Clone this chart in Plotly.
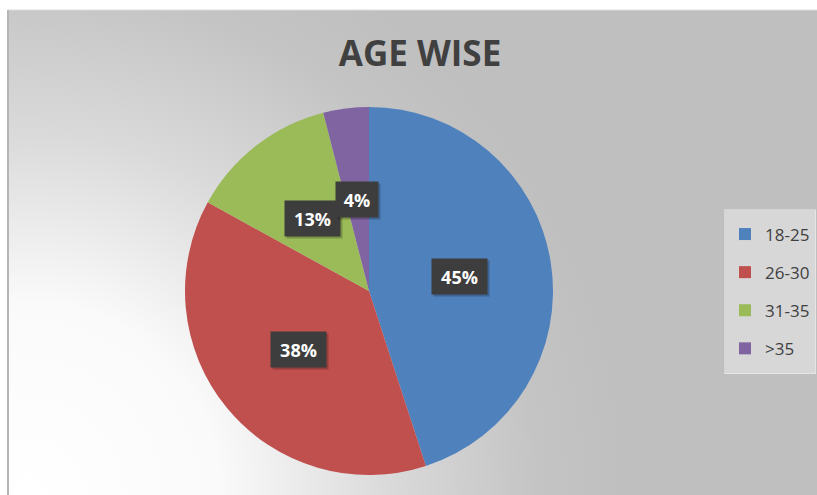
import base64
import math
import plotly.graph_objects as go

# ---- data ----
age_groups = ["18-25", "26-30", "31-35", ">35"]
shares = [45, 38, 13, 4]
slice_colors = ["#4F81BD", "#C0504D", "#9BBB59", "#8064A2"]
chart_title = "AGE WISE"

# ---- layout geometry (pixels) ----
W, H = 817, 495
AREA_X0, AREA_Y0 = 8, 10          # top-left corner of the chart area
CX, CY, R = 369, 291, 184         # pie centre and radius
LABEL_RADIUS = 0.5                 # data labels sit halfway out along each slice
FONT = "Open Sans"


def fx(x):
    return x / W


def fy(y):
    return 1 - y / H


# soft radial background, bright in the lower-left corner
aw, ah = W - AREA_X0, H - AREA_Y0
svg = f"""<svg xmlns="http://www.w3.org/2000/svg" width="{aw}" height="{ah}">
<defs><radialGradient id="bg" gradientUnits="userSpaceOnUse" cx="20" cy="{ah}" r="600">
<stop offset="0" stop-color="#ffffff"/>
<stop offset="0.32" stop-color="#fafafa"/>
<stop offset="0.6" stop-color="#dadada"/>
<stop offset="0.85" stop-color="#c4c4c4"/>
<stop offset="1" stop-color="#bfbfbf"/>
</radialGradient></defs>
<rect width="100%" height="100%" fill="url(#bg)"/></svg>"""
bg_uri = "data:image/svg+xml;base64," + base64.b64encode(svg.encode()).decode()

# legend entries: larger base font gives the roomy row spacing, the span sets the visible size
legend_labels = [
    f"<span style='font-size:17px;baseline-shift:4px'>{g.replace('>', '&gt;')}</span>"
    for g in age_groups
]

fig = go.Figure(
    go.Pie(
        labels=legend_labels,
        values=shares,
        sort=False,
        direction="clockwise",
        rotation=0,
        marker=dict(colors=slice_colors, line=dict(width=0)),
        textinfo="none",
        hoverinfo="skip",
        domain=dict(
            x=[fx(CX - R), fx(CX + R)],
            y=[fy(CY + R), fy(CY - R)],
        ),
    )
)

# data labels in dark boxes, placed along each slice's mid-angle
annotations = []
total = sum(shares)
cum = 0
for v in shares:
    theta = math.radians(360 * (cum + v / 2) / total)
    cum += v
    lx = CX + LABEL_RADIUS * R * math.sin(theta)
    ly = CY - LABEL_RADIUS * R * math.cos(theta)
    label = f"{v}%"
    common = dict(
        x=fx(lx), y=fy(ly), xref="paper", yref="paper",
        xanchor="center", yanchor="middle", showarrow=False,
        width=13 * len(label) + 2, height=21, borderpad=7,
    )
    # soft drop shadow behind the box
    annotations.append(dict(
        common, text="&nbsp;", xshift=2, yshift=-2,
        bgcolor="rgba(0,0,0,0.22)",
        font=dict(family=FONT, size=18, color="rgba(0,0,0,0)"),
    ))
    annotations.append(dict(
        common, text=f"<b>{label}</b>", bgcolor="#3d3d3d",
        font=dict(family=FONT, size=18, color="#ffffff"),
    ))

fig.update_layout(
    width=W,
    height=H,
    margin=dict(l=0, r=0, t=0, b=0),
    paper_bgcolor="#ffffff",
    title=dict(
        text=f"<b>{chart_title}</b>",
        x=fx(420), xanchor="center", xref="paper",
        y=fy(54), yanchor="middle", yref="paper",
        font=dict(family=FONT, size=35, color="#404040"),
    ),
    showlegend=True,
    legend=dict(
        x=fx(724), y=fy(209), xanchor="left", yanchor="top",
        bgcolor="rgba(240,240,240,0.5)",
        bordercolor="rgba(255,255,255,0.35)", borderwidth=1,
        font=dict(family=FONT, size=27, color="#404040"),
        traceorder="normal",
    ),
    images=[dict(
        source=bg_uri, xref="paper", yref="paper",
        x=fx(AREA_X0), y=fy(AREA_Y0), sizex=aw / W, sizey=ah / H,
        xanchor="left", yanchor="top", sizing="stretch", layer="below",
    )],
    shapes=[
        dict(type="line", xref="paper", yref="paper",
             x0=fx(AREA_X0), x1=1, y0=fy(AREA_Y0), y1=fy(AREA_Y0),
             line=dict(color="#dcdcdc", width=1)),
        dict(type="line", xref="paper", yref="paper",
             x0=fx(AREA_X0), x1=fx(AREA_X0), y0=fy(AREA_Y0), y1=0,
             line=dict(color="#b5b5b5", width=2)),
    ],
    annotations=annotations,
)

fig.write_html("out.html")
